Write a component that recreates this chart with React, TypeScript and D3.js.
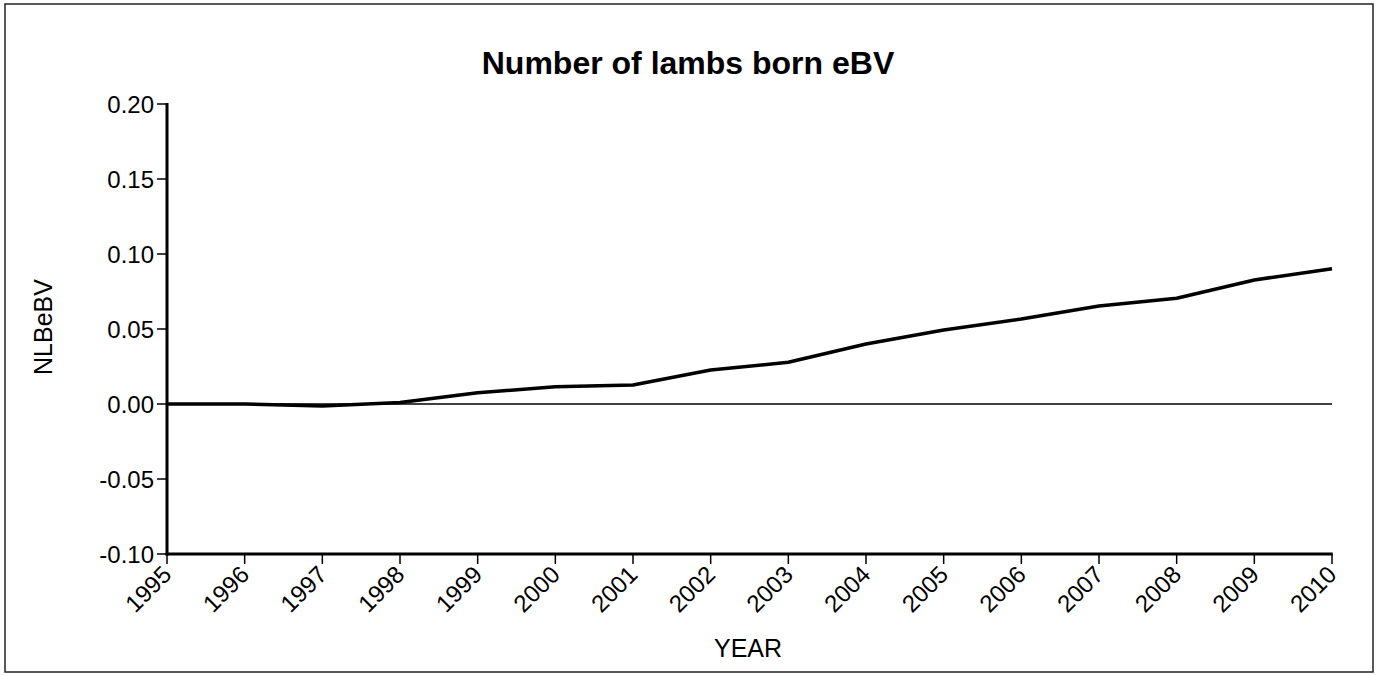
import React from "react";
import * as d3 from "d3";

const years = [1995, 1996, 1997, 1998, 1999, 2000, 2001, 2002, 2003, 2004, 2005, 2006, 2007, 2008, 2009, 2010];
const nlbEbv = [0.0, 0.0, -0.0013, 0.001, 0.0075, 0.0115, 0.0127, 0.0227, 0.0278, 0.04, 0.0493, 0.0567, 0.0653, 0.0705, 0.0827, 0.0902];
const yTicks = [-0.1, -0.05, 0.0, 0.05, 0.1, 0.15, 0.2];

const W = 1382;
const H = 675;
const FONT = "'Liberation Sans', Arial, sans-serif";

export default function App() {
  const x = d3.scaleLinear().domain([1995, 2010]).range([167, 1332]);
  const y = d3.scaleLinear().domain([-0.1, 0.2]).range([554, 104]);
  const line = d3
    .line<number>()
    .x((_, i) => x(years[i]))
    .y((d) => y(d));
  const path = line(nlbEbv) || "";
  const x0 = x(1995);
  const x1 = x(2010);
  const yBottom = y(-0.1);
  const yTop = y(0.2);

  return (
    <div style={{ position: "fixed", left: 0, top: 0, width: W, height: H, background: "#fff" }}>
      <svg width={W} height={H} style={{ display: "block" }} fontFamily={FONT}>
        <rect x={0} y={0} width={W} height={H} fill="#fff" />
        <rect x={5} y={4} width={1368} height={668} fill="none" stroke="#222" strokeWidth={1.5} />
        <text x={688} y={74} textAnchor="middle" fontSize={32} fontWeight="bold" fill="#000">
          Number of lambs born eBV
        </text>
        {/* zero line */}
        <line x1={x0} x2={x1} y1={y(0)} y2={y(0)} stroke="#000" strokeWidth={1.5} />
        {/* y axis */}
        <line x1={x0} x2={x0} y1={yTop - 1} y2={yBottom + 1.5} stroke="#000" strokeWidth={3} />
        {yTicks.map((t) => (
          <g key={t}>
            <line x1={x0 - 10} x2={x0} y1={y(t)} y2={y(t)} stroke="#000" strokeWidth={1.5} />
            <text x={x0 - 13} y={y(t)} dy="0.36em" textAnchor="end" fontSize={24} fill="#000">
              {t.toFixed(2)}
            </text>
          </g>
        ))}
        {/* x axis */}
        <line x1={x0 - 1.5} x2={x1 + 0.75} y1={yBottom} y2={yBottom} stroke="#000" strokeWidth={3} />
        {years.map((yr) => (
          <g key={yr}>
            <line x1={x(yr)} x2={x(yr)} y1={yBottom} y2={yBottom + 10} stroke="#000" strokeWidth={1.5} />
            <text
              transform={`translate(${x(yr) + 6},${yBottom + 22}) rotate(-45)`}
              textAnchor="end"
              fontSize={24}
              fill="#000"
            >
              {yr}
            </text>
          </g>
        ))}
        <path d={path} fill="none" stroke="#000" strokeWidth={3.5} strokeLinejoin="round" />
        <text
          transform={`translate(52,327) rotate(-90)`}
          textAnchor="middle"
          fontSize={25}
          fill="#000"
        >
          NLBeBV
        </text>
        <text x={748} y={657} textAnchor="middle" fontSize={25} fill="#000">
          YEAR
        </text>
      </svg>
    </div>
  );
}
